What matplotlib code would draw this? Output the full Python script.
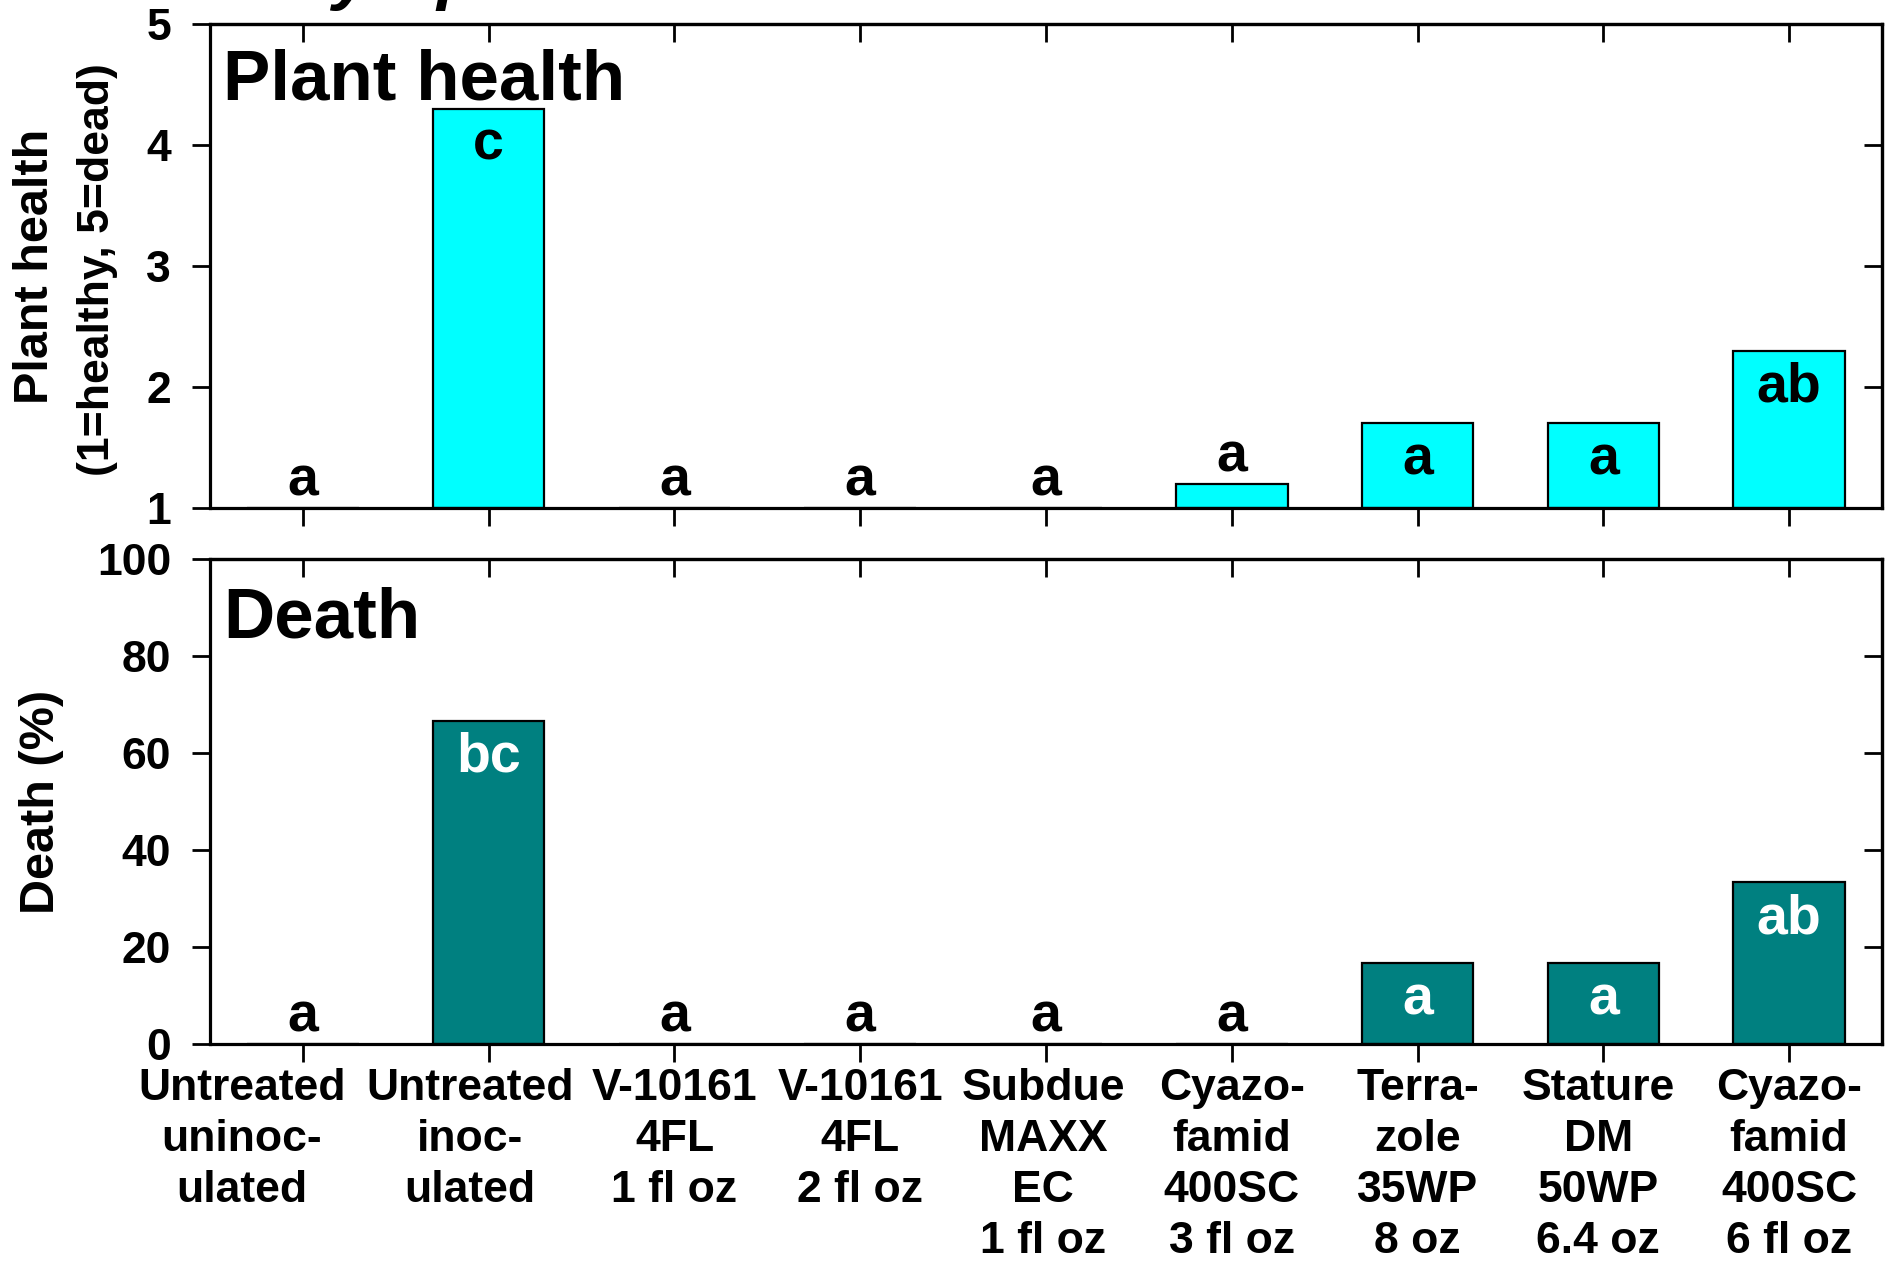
import matplotlib
matplotlib.use("Agg")
import matplotlib.pyplot as plt
from matplotlib.transforms import ScaledTranslation

plt.rcParams['font.family'] = ['Liberation Sans', 'DejaVu Sans']
plt.rcParams['font.weight'] = 'bold'

categories = [
    "Untreated\nuninoc-\nulated",
    "Untreated\ninoc-\nulated",
    "V-10161\n4FL\n1 fl oz",
    "V-10161\n4FL\n2 fl oz",
    "Subdue\nMAXX\nEC\n1 fl oz",
    "Cyazo-\nfamid\n400SC\n3 fl oz",
    "Terra-\nzole\n35WP\n8 oz",
    "Stature\nDM\n50WP\n6.4 oz",
    "Cyazo-\nfamid\n400SC\n6 fl oz",
]
health = [1.0, 4.3, 1.0, 1.0, 1.0, 1.2, 1.7, 1.7, 2.3]
health_letters = ["a", "c", "a", "a", "a", "a", "a", "a", "ab"]
death = [0.0, 66.7, 0.0, 0.0, 0.0, 0.0, 16.7, 16.7, 33.3]
death_letters = ["a", "bc", "a", "a", "a", "a", "a", "a", "ab"]

health_ticks = [1, 2, 3, 4, 5]
death_ticks = [0, 20, 40, 60, 80, 100]

W, H = 1886, 1261
fig = plt.figure(figsize=(W / 100, H / 100), dpi=100)

def frac_box(l, t, r, b):
    return [l / W, 1 - b / H, (r - l) / W, (b - t) / H]

ax1 = fig.add_axes(frac_box(210, 24, 1882, 508))
ax2 = fig.add_axes(frac_box(210, 559, 1882, 1044))

x = list(range(len(categories)))
px2pt = 72 / 100.0

# horizontal nudges (pixels) of the category labels, as in the reference
label_shift_px = [-61, -19, 0, 0, -3, 0, 0, -5, 0]

def style(ax, ylim, yticks, show_xlabels):
    ax.set_xlim(-0.5, 8.5)
    ax.set_ylim(*ylim)
    ax.set_yticks(yticks)
    ax.set_yticklabels([str(t) for t in yticks])
    ax.set_xticks(x)
    if show_xlabels:
        ax.set_xticklabels(categories, fontsize=34, fontweight='bold',
                           linespacing=1.32)
    else:
        ax.set_xticklabels([])
    for s in ax.spines.values():
        s.set_linewidth(2.3)
        s.set_zorder(5)
    ax.tick_params(axis='both', which='major', length=13, width=2.0,
                   direction='out', labelsize=32, top=False, right=False)
    ax.tick_params(axis='y', pad=15)
    ax.tick_params(axis='x', pad=4)
    sec = ax.secondary_xaxis('top')
    sec.set_xticks(x)
    sec.set_xticklabels([])
    sec.tick_params(direction='in', length=13, width=2.0)
    sec.spines['top'].set_linewidth(2.3)
    secy = ax.secondary_yaxis('right')
    secy.set_yticks(yticks)
    secy.set_yticklabels([])
    secy.tick_params(direction='in', length=13, width=2.0)
    secy.spines['right'].set_linewidth(2.3)
    for lab in ax.get_yticklabels():
        lab.set_fontweight('bold')

# Top panel
ax1.bar(x, [h - 1 for h in health], bottom=1, width=0.6, color='#00FFFF',
        edgecolor='black', linewidth=1.6, zorder=2)
style(ax1, (1, 5), health_ticks, False)
for i, (v, lab) in enumerate(zip(health, health_letters)):
    dy = -51 if (v - 1) / 4 > 0.12 else 12
    ax1.annotate(lab, xy=(i, v), xytext=(0, dy * px2pt), textcoords='offset points',
                 ha='center', va='baseline', fontsize=40, fontweight='bold',
                 color='black', zorder=4)
ax1.annotate("Plant health", xy=(0, 1), xycoords='axes fraction',
             xytext=(13 * px2pt, -75 * px2pt), textcoords='offset points',
             ha='left', va='baseline', fontsize=51, fontweight='bold')

# Bottom panel
ax2.bar(x, death, width=0.6, color='#008080', edgecolor='black',
        linewidth=1.6, zorder=2)
style(ax2, (0, 100), death_ticks, True)
for i, (v, lab) in enumerate(zip(death, death_letters)):
    inside = v / 100 > 0.12
    dy = -51 if inside else 12
    ax2.annotate(lab, xy=(i, v), xytext=(0, dy * px2pt), textcoords='offset points',
                 ha='center', va='baseline', fontsize=40, fontweight='bold',
                 color='white' if inside else 'black', zorder=4)
ax2.annotate("Death", xy=(0, 1), xycoords='axes fraction',
             xytext=(13 * px2pt, -78 * px2pt), textcoords='offset points',
             ha='left', va='baseline', fontsize=51, fontweight='bold')

for lab, sh in zip(ax2.get_xticklabels(), label_shift_px):
    lab.set_transform(lab.get_transform() + ScaledTranslation(sh / 100, 0, fig.dpi_scale_trans))

# y labels
fig.text(36 / W, 1 - 266 / H, "Plant health", rotation=90, ha='center', va='center',
         fontsize=35, fontweight='bold')
fig.text(98 / W, 1 - 270 / H, "(1=healthy, 5=dead)", rotation=90, ha='center', va='center',
         fontsize=32, fontweight='bold')
fig.text(42 / W, 1 - 802 / H, "Death (%)", rotation=90, ha='center', va='center',
         fontsize=35, fontweight='bold')

# title, cut off at the top edge of the image (only descenders visible)
fig.text(245 / W, 1.0 + 3 / H, "Phytophthora", ha='left', va='baseline', fontsize=50,
         fontweight='bold', fontstyle='italic')

fig.savefig("out.png", dpi=100)
